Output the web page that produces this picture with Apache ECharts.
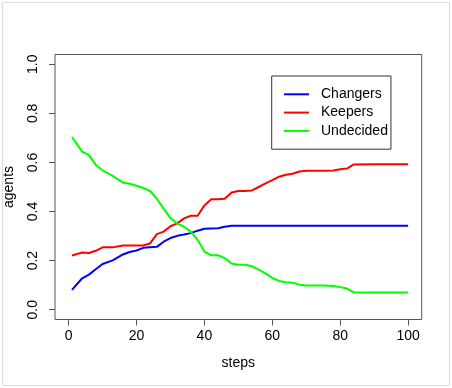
<!DOCTYPE html>
<html>
<head>
<meta charset="utf-8">
<script src="https://cdn.jsdelivr.net/npm/echarts@6/dist/echarts.min.js"></script>
<style>
html,body{margin:0;padding:0;background:#fff;}
#chart{width:452px;height:388px;}
</style>
</head>
<body>
<div id="chart"></div>
<script>
var steps = [1,4,6,8,10,13,16,18,20,22,24,26,28,30,32,34,36,38,40,42,44,46,48,50,52,54,56,58,60,62,64,66,68,70,75,78,80,82,84,90,100];
var changers = [0.081,0.128,0.143,0.165,0.186,0.201,0.225,0.235,0.241,0.252,0.254,0.256,0.277,0.292,0.301,0.306,0.312,0.322,0.330,0.331,0.332,0.338,0.342,0.342,0.342,0.342,0.342,0.342,0.342,0.342,0.342,0.342,0.342,0.342,0.342,0.342,0.342,0.342,0.342,0.342,0.342];
var keepers = [0.221,0.233,0.231,0.240,0.254,0.254,0.262,0.262,0.262,0.262,0.270,0.308,0.318,0.340,0.352,0.372,0.383,0.383,0.425,0.450,0.450,0.452,0.478,0.484,0.484,0.486,0.500,0.515,0.528,0.542,0.550,0.554,0.563,0.566,0.566,0.567,0.572,0.575,0.592,0.593,0.593];
var undecided = [0.703,0.644,0.630,0.590,0.568,0.545,0.518,0.513,0.505,0.496,0.484,0.452,0.412,0.373,0.352,0.338,0.318,0.285,0.237,0.222,0.222,0.210,0.188,0.183,0.183,0.177,0.163,0.148,0.130,0.117,0.112,0.110,0.102,0.099,0.099,0.097,0.092,0.086,0.071,0.070,0.070];
var xTicks = [0,20,40,60,80,100];
var yTicks = [0,0.2,0.4,0.6,0.8,1.0];
var seriesNames = ['Changers','Keepers','Undecided'];
var seriesColors = ['#0000ff','#ff0000','#00ff00'];

function pairs(vals){ return steps.map(function(s,i){ return [s, vals[i]]; }); }
var allVals = [changers, keepers, undecided];

var FONT = 'Liberation Sans, Arial, sans-serif';
var chart = echarts.init(document.getElementById('chart'), null, {renderer:'canvas'});
chart.setOption({
  animation: false,
  backgroundColor: '#fff',
  textStyle: {fontFamily: FONT},
  grid: {left: 55, right: 30.3, top: 54.5, bottom: 68.5, show: true, borderColor: '#555', borderWidth: 1, backgroundColor: 'transparent', containLabel: false, outerBoundsMode: 'none'},
  graphic: [{type:'rect', shape:{x:2.5,y:2.5,width:447,height:383}, style:{fill:'none', stroke:'#dddddd', lineWidth:1}, silent:true, z:-1}],
  xAxis: {
    type: 'value', min: -4, max: 104,
    name: 'steps', nameLocation: 'middle', nameGap: 37,
    nameTextStyle: {fontSize: 14, color: '#000', fontFamily: FONT},
    axisLine: {show: false, onZero: false},
    splitLine: {show: false},
    axisTick: {show: true, length: 6, lineStyle: {color: '#555'}, customValues: xTicks},
    axisLabel: {fontSize: 14, color: '#000', margin: 10, fontFamily: FONT, customValues: xTicks}
  },
  yAxis: {
    type: 'value', min: -0.04, max: 1.04,
    name: 'agents', nameLocation: 'middle', nameGap: 39,
    nameTextStyle: {fontSize: 14, color: '#000', fontFamily: FONT},
    axisLine: {show: false, onZero: false},
    splitLine: {show: false},
    axisTick: {show: true, length: 6, lineStyle: {color: '#555'}, customValues: yTicks},
    axisLabel: {fontSize: 14, color: '#000', margin: 15, rotate: 90, fontFamily: FONT, customValues: yTicks,
      formatter: function(v){ return v.toFixed(1); }}
  },
  legend: {
    orient: 'vertical', left: 271.7, top: 76,
    data: seriesNames,
    icon: 'rect', itemWidth: 25, itemHeight: 2, itemGap: 0.3,
    padding: [9.3, 3, 9.3, 12.3],
    borderColor: '#333', borderWidth: 1, backgroundColor: '#fff',
    textStyle: {fontSize: 14, color: '#000', lineHeight: 18, fontFamily: FONT, padding: [0,0,0,7]}
  },
  series: seriesNames.map(function(n,i){
    return {
      name: n, type: 'line', data: pairs(allVals[i]),
      showSymbol: false, symbol: 'none',
      color: seriesColors[i],
      lineStyle: {width: 2, color: seriesColors[i]},
      itemStyle: {color: seriesColors[i]}
    };
  })
});
</script>
</body>
</html>
